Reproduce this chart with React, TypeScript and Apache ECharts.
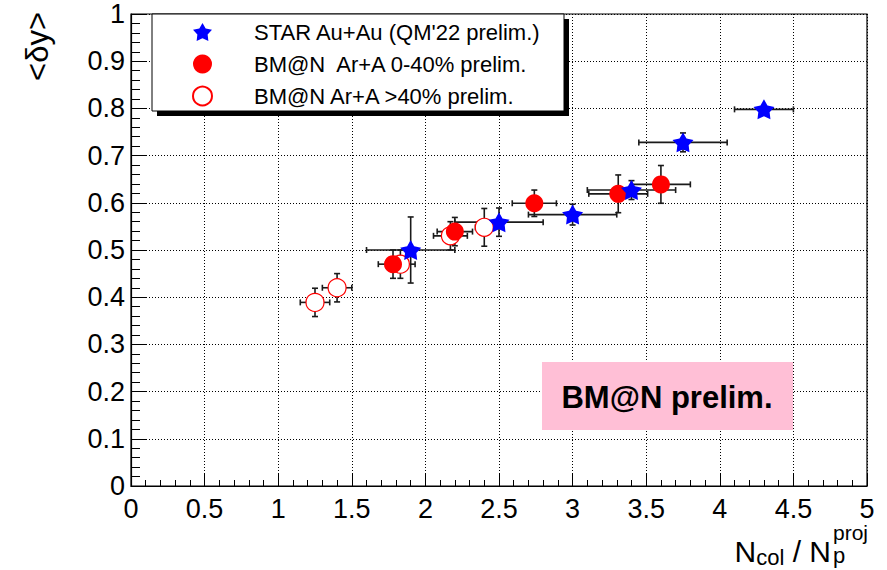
import { useEffect, useRef } from "react";
import * as echarts from "echarts";

// STAR Au+Au (QM'22 prelim.)
const starX = [1.9, 2.5, 3.0, 3.4, 3.75, 4.3];
const starY = [0.5, 0.559, 0.575, 0.627, 0.728, 0.798];
const starXErr = [0.3, 0.3, 0.3, 0.3, 0.3, 0.2];
const starYErr = [0.07, 0.03, 0.022, 0.02, 0.02, 0.006];

// BM@N Ar+A 0-40% prelim.
const centX = [1.78, 2.2, 2.74, 3.31, 3.6];
const centY = [0.47, 0.539, 0.599, 0.619, 0.639];
const centXErr = [0.1, 0.12, 0.15, 0.2, 0.2];
const centYErr = [0.03, 0.03, 0.028, 0.04, 0.04];

// BM@N Ar+A >40% prelim.
const periX = [1.25, 1.4, 1.83, 2.17, 2.4];
const periY = [0.389, 0.42, 0.47, 0.53, 0.548];
const periXErr = [0.1, 0.1, 0.1, 0.115, 0.06];
const periYErr = [0.03, 0.03, 0.03, 0.03, 0.04];

const seriesNames = [
  "STAR Au+Au (QM'22 prelim.)",
  "BM@N  Ar+A 0-40% prelim.",
  "BM@N Ar+A >40% prelim.",
];
const xTicks = { min: 0, max: 5, interval: 0.5 };
const yTicks = { min: 0, max: 1, interval: 0.1 };

const FONT = "Liberation Sans";

function makeStar(): string {
  const pts: string[] = [];
  for (let i = 0; i < 10; i++) {
    const a = -Math.PI / 2 + (i * Math.PI) / 5;
    const r = i % 2 === 0 ? 50 : 27;
    pts.push(`${(50 + r * Math.cos(a)).toFixed(2)},${(50 + r * Math.sin(a)).toFixed(2)}`);
  }
  return "path://M" + pts.join(" L") + " Z";
}
const STAR = makeStar();

function errSeries(id: string, xs: number[], ys: number[], exs: number[], eys: number[]) {
  return {
    type: "custom",
    name: id,
    z: 2,
    silent: true,
    data: xs.map((x, i) => [x, ys[i], exs[i], eys[i]]),
    encode: { x: 0, y: 1 },
    renderItem: (_params: any, api: any) => {
      const x = api.value(0);
      const y = api.value(1);
      const ex = api.value(2);
      const ey = api.value(3);
      const l = api.coord([x - ex, y]);
      const r = api.coord([x + ex, y]);
      const t = api.coord([x, y + ey]);
      const b = api.coord([x, y - ey]);
      const cap = 3;
      const st = { stroke: "#1a1a1a", lineWidth: 1.6 };
      const ln = (x1: number, y1: number, x2: number, y2: number) => ({
        type: "line",
        shape: { x1, y1, x2, y2 },
        style: st,
      });
      return {
        type: "group",
        children: [
          ln(l[0], l[1], r[0], r[1]),
          ln(t[0], t[1], b[0], b[1]),
          ln(l[0], l[1] - cap, l[0], l[1] + cap),
          ln(r[0], r[1] - cap, r[0], r[1] + cap),
          ln(t[0] - cap, t[1], t[0] + cap, t[1]),
          ln(b[0] - cap, b[1], b[0] + cap, b[1]),
        ],
      };
    },
  };
}

export default function App() {
  const ref = useRef<HTMLDivElement>(null);
  useEffect(() => {
    if (!ref.current) return;
    const chart = echarts.init(ref.current, undefined, { renderer: "svg" });
    const dotted = { color: "#000", width: 1, type: [1, 2] as any };
    chart.setOption({
      animation: false,
      backgroundColor: "#fff",
      grid: {
        left: 131,
        right: 20,
        top: 14,
        bottom: 84,
        show: true,
        borderColor: "#000",
        borderWidth: 1.2,
        backgroundColor: "transparent",
      },
      xAxis: {
        type: "value",
        min: xTicks.min,
        max: xTicks.max,
        interval: xTicks.interval,
        axisLine: { show: true, onZero: false, lineStyle: { color: "#000", width: 1.2 } },
        axisTick: { show: true, inside: true, length: 12, lineStyle: { color: "#000" } },
        minorTick: { show: true, splitNumber: 5, length: 6, lineStyle: { color: "#000" } },
        splitLine: { show: true, lineStyle: dotted },
        axisLabel: { color: "#000", fontFamily: FONT, fontSize: 27, margin: 9 },
      },
      yAxis: {
        type: "value",
        min: yTicks.min,
        max: yTicks.max,
        interval: yTicks.interval,
        axisLine: { show: true, onZero: false, lineStyle: { color: "#000", width: 1.2 } },
        axisTick: { show: true, inside: true, length: 16, lineStyle: { color: "#000" } },
        minorTick: { show: true, splitNumber: 5, length: 9, lineStyle: { color: "#000" } },
        splitLine: { show: true, lineStyle: dotted },
        axisLabel: { color: "#000", fontFamily: FONT, fontSize: 27, margin: 6 },
      },
      legend: {
        data: [
          { name: seriesNames[0], icon: STAR },
          { name: seriesNames[1] },
          { name: seriesNames[2] },
        ],
        orient: "vertical",
        left: 192,
        top: 21,
        itemWidth: 19,
        itemHeight: 19,
        itemGap: 10,
        padding: 0,
        selectedMode: false,
        z: 30,
        textStyle: {
          color: "#000",
          fontFamily: FONT,
          fontSize: 22,
          lineHeight: 19,
          padding: [0, 0, 0, 37],
        },
      },
      graphic: [
        { type: "rect", z: 20, shape: { x: 157, y: 19, width: 412, height: 97 }, style: { fill: "#000" } },
        {
          type: "rect",
          z: 21,
          shape: { x: 152, y: 14, width: 412, height: 97 },
          style: { fill: "#fff", stroke: "#000", lineWidth: 1 },
        },
        { type: "rect", z: 5, shape: { x: 542, y: 362, width: 251, height: 68 }, style: { fill: "#ffbfd6" } },
        {
          type: "text",
          z: 6,
          x: 667,
          y: 397,
          style: {
            text: "BM@N prelim.",
            fill: "#000",
            font: `bold 31px "${FONT}"`,
            align: "center",
            verticalAlign: "middle",
          },
        },
        {
          type: "text",
          z: 6,
          x: 37,
          y: 12,
          rotation: Math.PI / 2,
          style: {
            text: "<δy>",
            fill: "#000",
            font: `31px "${FONT}"`,
            align: "right",
            verticalAlign: "middle",
          },
        },
        {
          type: "text",
          z: 6,
          x: 831,
          y: 551,
          style: {
            text: "{n|N}{s|col}{n| / N}",
            align: "right",
            verticalAlign: "middle",
            fill: "#000",
            rich: {
              n: { fontFamily: FONT, fontSize: 30, fill: "#000" },
              s: { fontFamily: FONT, fontSize: 22, fill: "#000", padding: [13, 0, 0, 0] },
            },
          },
        },
        {
          type: "text",
          z: 6,
          x: 833,
          y: 555,
          style: { text: "p", align: "left", verticalAlign: "middle", fill: "#000", font: `22px "${FONT}"` },
        },
        {
          type: "text",
          z: 6,
          x: 833,
          y: 532,
          style: { text: "proj", align: "left", verticalAlign: "middle", fill: "#000", font: `21px "${FONT}"` },
        },
      ],
      series: [
        errSeries("err-peri", periX, periY, periXErr, periYErr),
        errSeries("err-cent", centX, centY, centXErr, centYErr),
        errSeries("err-star", starX, starY, starXErr, starYErr),
        {
          type: "scatter",
          name: seriesNames[2],
          z: 3,
          symbol: "circle",
          symbolSize: 18,
          itemStyle: { color: "#fff", borderColor: "#ff0000", borderWidth: 1.2, opacity: 1 },
          data: periX.map((x, i) => [x, periY[i]]),
        },
        {
          type: "scatter",
          name: seriesNames[1],
          z: 4,
          symbol: "circle",
          symbolSize: 18,
          itemStyle: { color: "#ff0000", opacity: 1 },
          data: centX.map((x, i) => [x, centY[i]]),
        },
        {
          type: "scatter",
          name: seriesNames[0],
          z: 5,
          symbol: STAR,
          symbolKeepAspect: true,
          symbolSize: 21,
          itemStyle: { color: "#0000ff", opacity: 1 },
          data: starX.map((x, i) => [x, starY[i]]),
        },
      ],
    });
    return () => chart.dispose();
  }, []);
  return <div ref={ref} style={{ width: 887, height: 570, position: "absolute", left: 0, top: 0 }} />;
}
